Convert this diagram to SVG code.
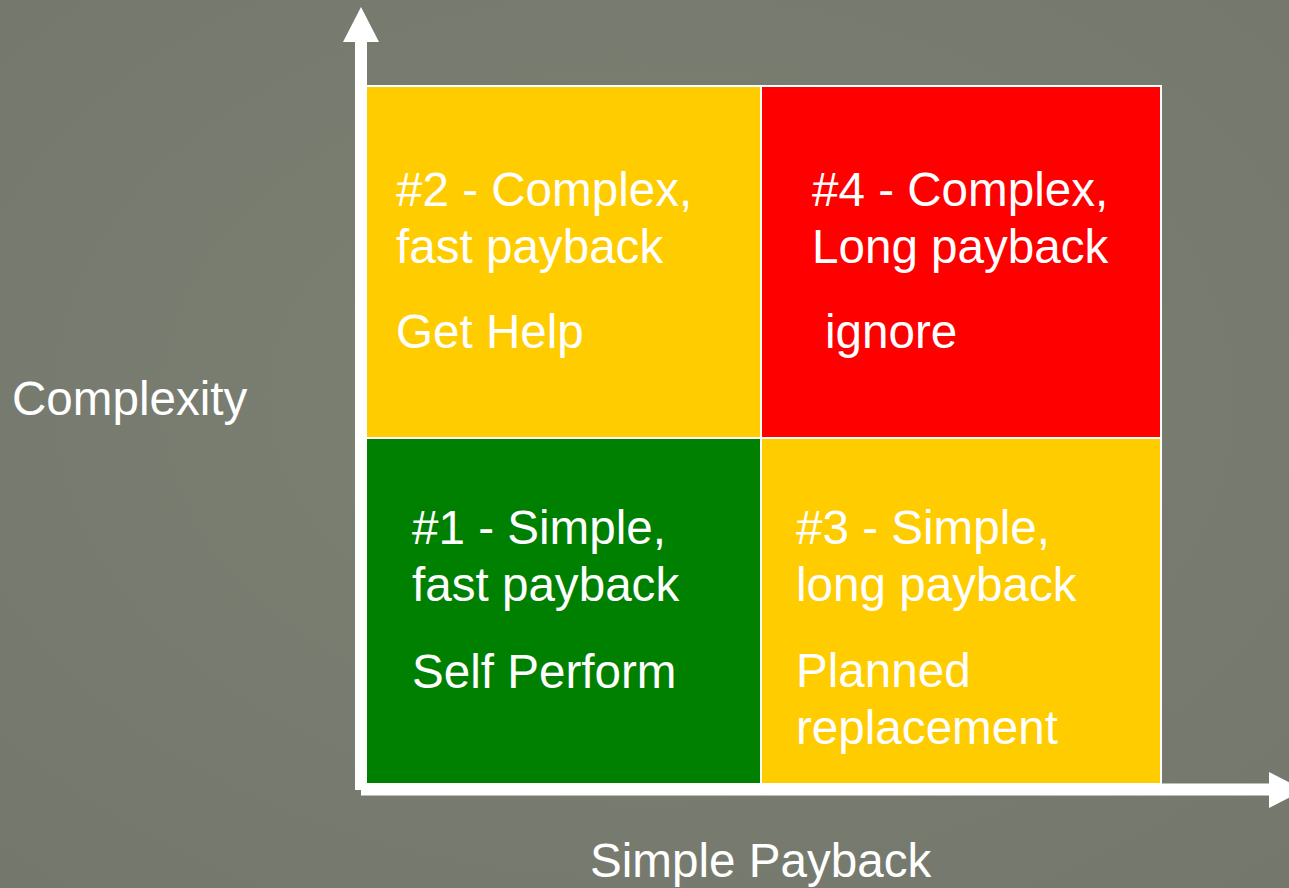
<svg xmlns="http://www.w3.org/2000/svg" width="1289" height="888" viewBox="0 0 1289 888">
  <style>
    .t { font-family: "Liberation Sans", Arial, sans-serif; font-size: 47.6px; fill: #ffffff; }
    .cell { stroke: #ffffff; stroke-width: 2; }
    .axis { stroke: #ffffff; stroke-width: 12; fill: none; }
  </style>
  <defs>
    <radialGradient id="bg" cx="50%" cy="45%" r="75%">
      <stop offset="0" stop-color="#7d8174"/>
      <stop offset="1" stop-color="#74786c"/>
    </radialGradient>
  </defs>
  <rect x="0" y="0" width="1289" height="888" fill="url(#bg)"/>

  <g id="q2">
    <rect class="cell" x="366" y="86" width="395" height="352" fill="#ffcc00"/>
    <text class="t" x="396" y="206">#2 - Complex,</text>
    <text class="t" x="396" y="263">fast payback</text>
    <text class="t" x="396" y="348">Get Help</text>
  </g>
  <g id="q4">
    <rect class="cell" x="761" y="86" width="400" height="352" fill="#ff0000"/>
    <text class="t" x="812" y="206">#4 - Complex,</text>
    <text class="t" x="812" y="263">Long payback</text>
    <text class="t" x="825" y="348">ignore</text>
  </g>
  <g id="q1">
    <rect class="cell" x="366" y="438" width="395" height="346" fill="#008000"/>
    <text class="t" x="412" y="544">#1 - Simple,</text>
    <text class="t" x="412" y="601">fast payback</text>
    <text class="t" x="412" y="688">Self Perform</text>
  </g>
  <g id="q3">
    <rect class="cell" x="761" y="438" width="400" height="346" fill="#ffcc00"/>
    <text class="t" x="796" y="544">#3 - Simple,</text>
    <text class="t" x="796" y="601">long payback</text>
    <text class="t" x="796" y="687">Planned</text>
    <text class="t" x="796" y="744">replacement</text>
  </g>

  <g id="connectors">
    <line class="axis" x1="361" y1="40" x2="361" y2="790"/>
    <polygon points="343,42 361,7 379,42" fill="#ffffff"/>
    <line class="axis" x1="361" y1="789.5" x2="1271" y2="789.5"/>
    <polygon points="1269,772 1304,790 1269,808" fill="#ffffff"/>
  </g>

  <g id="labels">
    <text class="t" x="12" y="415">Complexity</text>
    <text class="t" x="590" y="877">Simple Payback</text>
  </g>
</svg>
